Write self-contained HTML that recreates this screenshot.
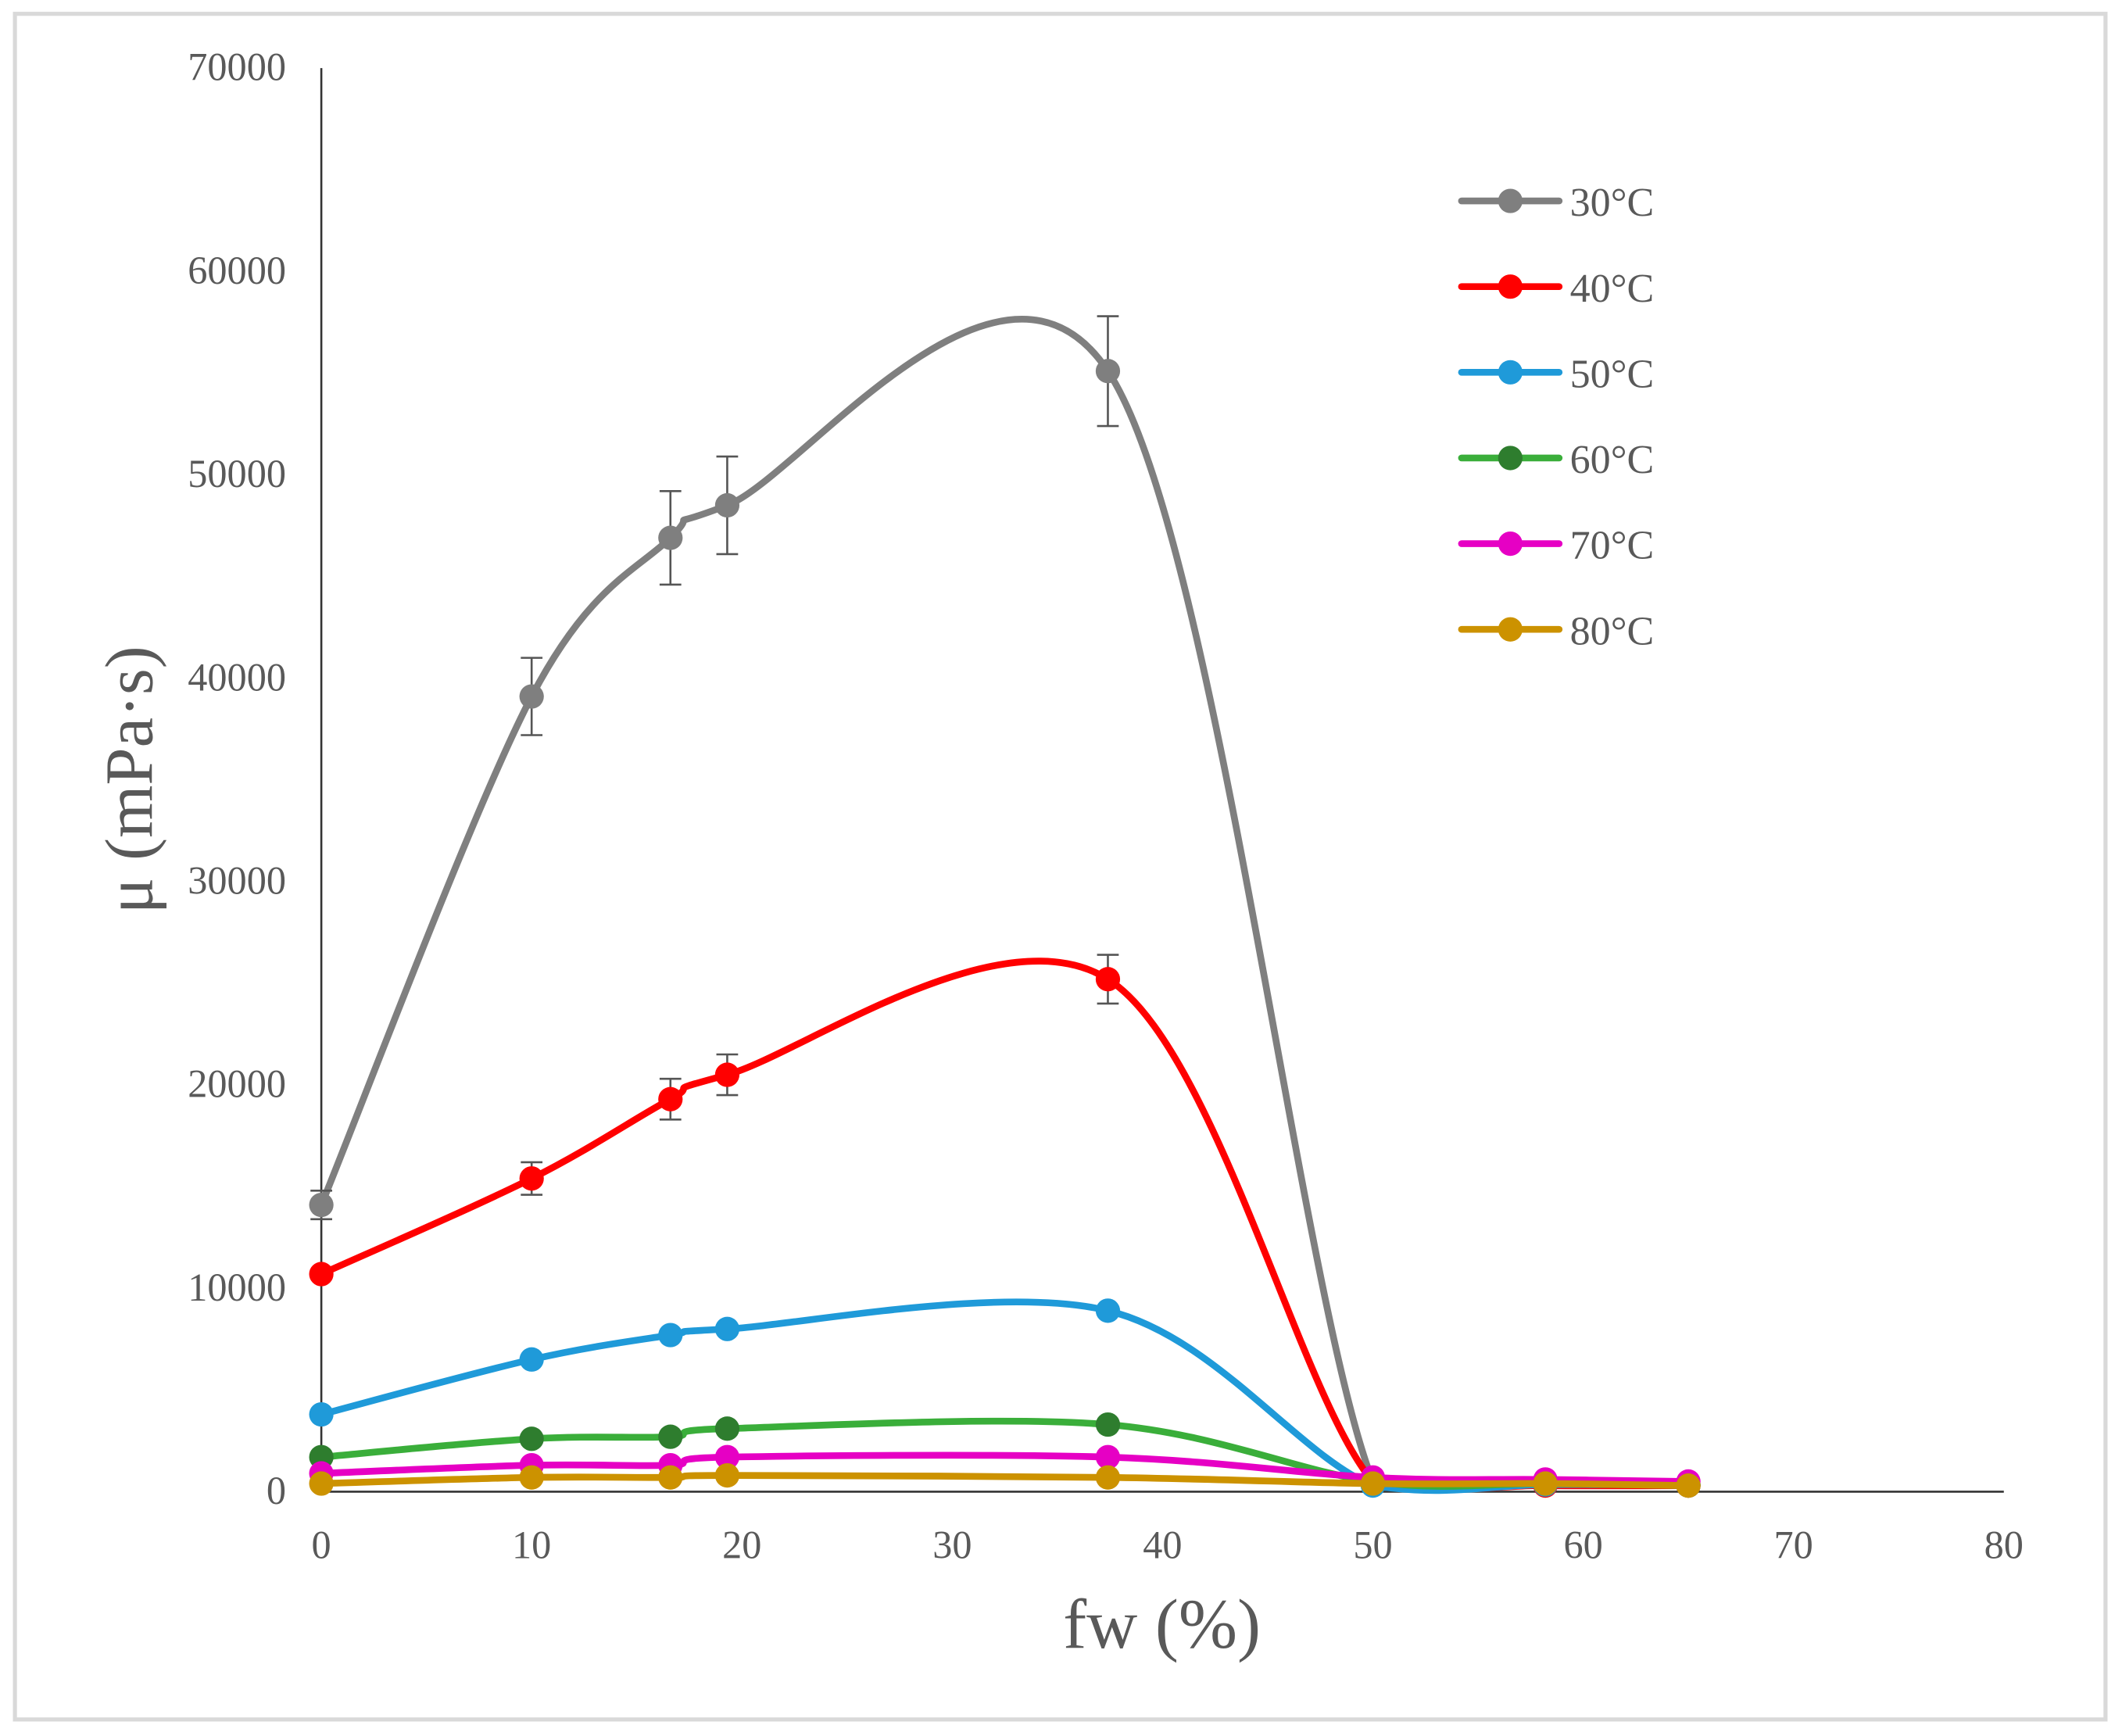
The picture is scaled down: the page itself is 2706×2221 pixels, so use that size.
<!DOCTYPE html>
<html><head><meta charset="utf-8"><style>
html,body{margin:0;padding:0;background:#fff}
svg{display:block}
text{font-family:"Liberation Serif",serif;fill:#595959}
</style></head><body>
<svg id="chart" width="2706" height="2221" viewBox="0 0 1560 1280" xmlns="http://www.w3.org/2000/svg">
<rect x="11" y="10" width="1542" height="1258" fill="#fff" stroke="#d9d9d9" stroke-width="3"/>
<g id="axes"></g>
<g id="series"></g>
<g id="legend"></g>
</svg>
<script>
const xValues = [0, 10, 16.6, 19.3, 37.4, 50, 58.2, 65];
const s30 = [14100, 39100, 46900, 48500, 55100, 500, 400, 350];
const s40 = [10700, 15400, 19300, 20500, 25200, 500, 300, 300];
const s50 = [3800, 6500, 7700, 8000, 8900, 300, 350, 350];
const s60 = [1700, 2600, 2700, 3100, 3300, 500, 400, 300];
const s70 = [900, 1300, 1300, 1700, 1700, 700, 600, 500];
const s80 = [400, 700, 700, 800, 700, 400, 400, 300];
const err30 = [700, 1900, 2300, 2400, 2700, 0, 0, 0];
const err40 = [0, 800, 1000, 1000, 1200, 0, 0, 0];
const yTicks = [0, 10000, 20000, 30000, 40000, 50000, 60000, 70000];
const xTicks = [0, 10, 20, 30, 40, 50, 60, 70, 80];
const seriesNames = ["30°C", "40°C", "50°C", "60°C", "70°C", "80°C"];

const NS = "http://www.w3.org/2000/svg";
const X0 = 237, X1 = 1478, Y0 = 1100, Y1 = 50;
const xs = v => X0 + (v - 0) / 80 * (X1 - X0);
const ys = v => Y0 - v / 70000 * (Y0 - Y1);
function mk(tag, attrs, parent) {
  const e = document.createElementNS(NS, tag);
  for (const k in attrs) e.setAttribute(k, attrs[k]);
  parent.appendChild(e);
  return e;
}
const axes = document.getElementById('axes');
const yAxis = mk('line', {x1: X0, y1: Y1, x2: X0, y2: Y0, stroke: '#333', 'stroke-width': 1.5}, axes);


const xAxis = mk('line', {x1: X0, y1: Y0, x2: X1, y2: Y0, stroke: '#333', 'stroke-width': 1.5}, axes);


yTicks.forEach(v => {
  const t = mk('text', {x: 211, y: ys(v) + 9, 'text-anchor': 'end', 'font-size': 29}, axes);
  t.textContent = v;
  
  
});
xTicks.forEach(v => {
  const t = mk('text', {x: xs(v), y: 1149, 'text-anchor': 'middle', 'font-size': 29}, axes);
  t.textContent = v;
  
  
});
const yt = mk('text', {x: 0, y: 0, 'text-anchor': 'middle', 'font-size': 50, transform: 'translate(112,575) rotate(-90)'}, axes);
yt.textContent = 'μ (mPa·s)';


const xt = mk('text', {x: 857, y: 1215, 'text-anchor': 'middle', 'font-size': 52}, axes);
xt.textContent = 'fw (%)';



const allSeries = [s30, s40, s50, s60, s70, s80];
const errs = [err30, err40, null, null, null, null];
const lineColors = ['#7f7f7f', '#ff0000', '#1f9ad9', '#3aae3a', '#e600c4', '#cc9200'];
const markColors = ['#7f7f7f', '#ff0000', '#1f9ad9', '#2e7d2e', '#e600c4', '#cc9200'];
const sg = document.getElementById('series');
function smoothPath(pts) {
  const base = ys(0) + 4;
  let d = `M${pts[0][0]},${pts[0][1]}`;
  for (let i = 0; i < pts.length - 1; i++) {
    const p0 = pts[i - 1] || pts[i], p1 = pts[i], p2 = pts[i + 1], p3 = pts[i + 2] || p2;
    const c1 = [p1[0] + (p2[0] - p0[0]) / 6, Math.min(base, p1[1] + (p2[1] - p0[1]) / 6)];
    const c2 = [p2[0] - (p3[0] - p1[0]) / 6, Math.min(base, p2[1] - (p3[1] - p1[1]) / 6)];
    d += ` C${c1[0]},${c1[1]} ${c2[0]},${c2[1]} ${p2[0]},${p2[1]}`;
  }
  return d;
}
allSeries.forEach((vals, si) => {
  const g = mk('g', {}, sg);
  
  
  const pts = vals.map((v, i) => [xs(xValues[i]), ys(v)]);
  const p = mk('path', {d: smoothPath(pts), fill: 'none', stroke: lineColors[si], 'stroke-width': 5, 'stroke-linecap': 'round'}, g);
  
  
  const e = errs[si];
  vals.forEach((v, i) => {
    if (e && e[i] > 0) {
      const x = xs(xValues[i]), ya = ys(v + e[i]), yb = ys(v - e[i]);
      const eb = mk('path', {d: `M${x},${ya}V${yb}M${x - 8},${ya}H${x + 8}M${x - 8},${yb}H${x + 8}`, stroke: '#555', 'stroke-width': 1.5, fill: 'none'}, g);
      
      
    }
    const c = mk('circle', {cx: xs(xValues[i]), cy: ys(v), r: 9, fill: markColors[si]}, g);
    
    
  });
});
const lg = document.getElementById('legend');


seriesNames.forEach((n, i) => {
  const y = 148 + i * 63.2;
  const g = mk('g', {}, lg);
  
  
  mk('line', {x1: 1078, y1: y, x2: 1150, y2: y, stroke: lineColors[i], 'stroke-width': 5, 'stroke-linecap': 'round'}, g);
  mk('circle', {cx: 1114, cy: y, r: 9, fill: markColors[i]}, g);
  const t = mk('text', {x: 1158, y: y + 11, 'font-size': 30}, g);
  t.textContent = n;
});
</script>
</body></html>
